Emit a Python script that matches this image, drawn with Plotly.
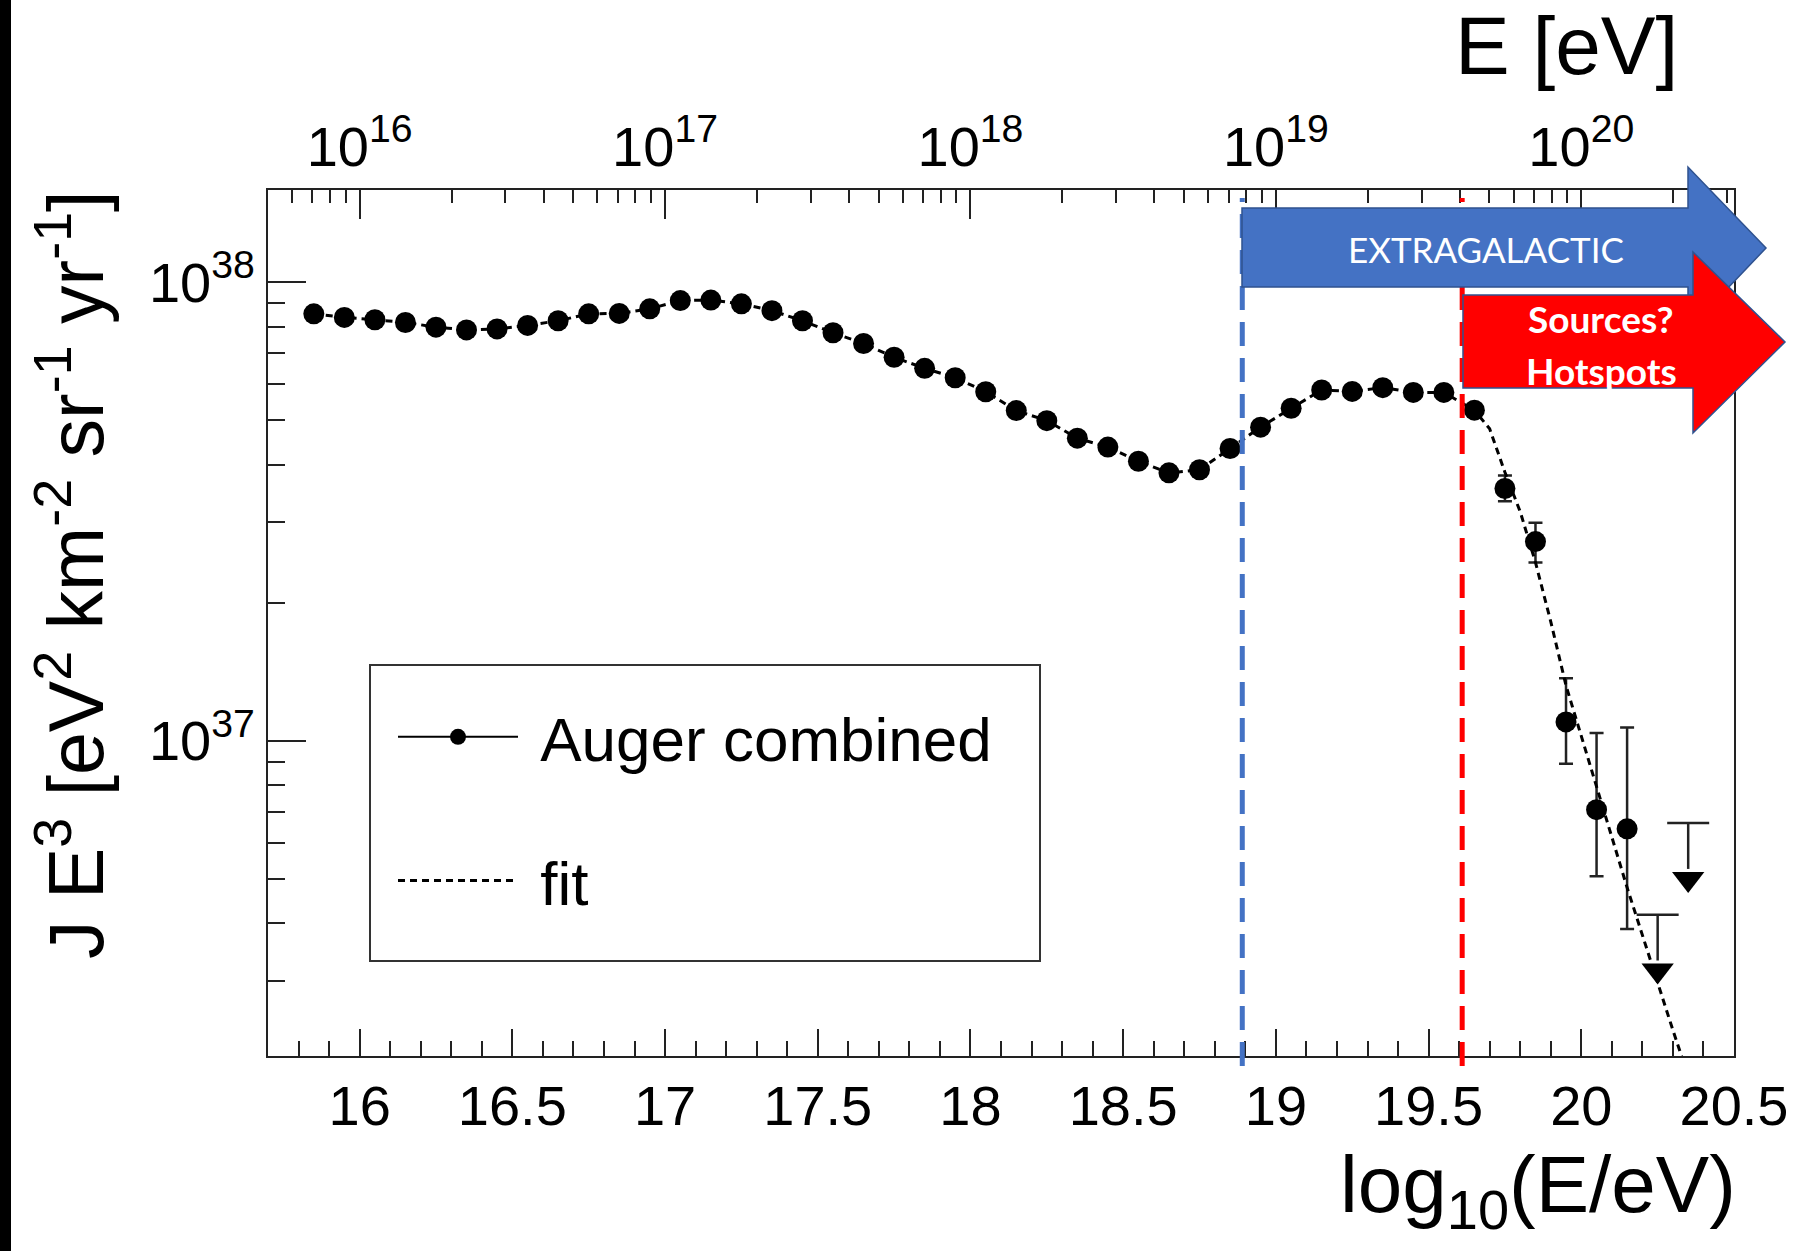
import math
import plotly.graph_objects as go

# ---------------- data ----------------
log_e = [15.85, 15.95, 16.05, 16.15, 16.25, 16.35, 16.45, 16.55, 16.65, 16.75,
         16.85, 16.95, 17.05, 17.15, 17.25, 17.35, 17.45, 17.55, 17.65, 17.75,
         17.85, 17.95, 18.05, 18.15, 18.25, 18.35, 18.45, 18.55, 18.65, 18.75,
         18.85, 18.95, 19.05, 19.15, 19.25, 19.35, 19.45, 19.55, 19.65, 19.75,
         19.85, 19.95, 20.05, 20.15]
# J E^3 in units of 1e37 eV^2 km^-2 sr^-1 yr^-1
flux_e37 = [8.53, 8.38, 8.28, 8.17, 7.98, 7.87, 7.91, 8.05, 8.24, 8.53,
            8.55, 8.75, 9.12, 9.14, 8.97, 8.67, 8.24, 7.76, 7.35, 6.86,
            6.49, 6.19, 5.77, 5.25, 4.99, 4.57, 4.37, 4.07, 3.84, 3.90,
            4.34, 4.83, 5.31, 5.82, 5.78, 5.89, 5.75, 5.75, 5.26, 3.55,
            2.72, 1.10, 0.708, 0.643]
err_up_e37 = [0, 0, 0, 0, 0, 0, 0, 0, 0, 0,
              0, 0, 0, 0, 0, 0, 0, 0, 0, 0,
              0, 0, 0, 0, 0, 0, 0, 0, 0, 0,
              0, 0, 0, 0, 0, 0, 0, 0, 0.10, 0.24,
              0.27, 0.27, 0.332, 0.427]
err_dn_e37 = [0, 0, 0, 0, 0, 0, 0, 0, 0, 0,
              0, 0, 0, 0, 0, 0, 0, 0, 0, 0,
              0, 0, 0, 0, 0, 0, 0, 0, 0, 0,
              0, 0, 0, 0, 0, 0, 0, 0, 0.10, 0.22,
              0.27, 0.209, 0.201, 0.254]

ul_log_e = [20.25, 20.35]
ul_e37 = [0.418, 0.662]

fit_log_e = [15.85, 15.95, 16.05, 16.15, 16.25, 16.35, 16.45, 16.55, 16.65, 16.75,
             16.85, 16.95, 17.05, 17.15, 17.25, 17.35, 17.45, 17.55, 17.65, 17.75,
             17.85, 17.95, 18.05, 18.15, 18.25, 18.35, 18.45, 18.55, 18.65, 18.75,
             18.85, 18.95, 19.05, 19.15, 19.25, 19.35, 19.45, 19.55, 19.65,
             19.70, 19.75, 19.80, 19.85, 19.90, 19.95, 20.00, 20.05, 20.10, 20.15,
             20.20, 20.25, 20.30, 20.35]
fit_e37 = [8.53, 8.38, 8.28, 8.17, 7.98, 7.87, 7.91, 8.05, 8.24, 8.53,
           8.55, 8.75, 9.12, 9.14, 8.97, 8.67, 8.24, 7.76, 7.35, 6.86,
           6.49, 6.19, 5.77, 5.25, 4.99, 4.57, 4.37, 4.07, 3.84, 3.90,
           4.34, 4.83, 5.31, 5.82, 5.78, 5.89, 5.75, 5.75, 5.26,
           4.79, 3.85, 3.16, 2.45, 1.82, 1.32, 1.02, 0.794, 0.617, 0.479,
           0.376, 0.295, 0.234, 0.186]

x_major = [16, 16.5, 17, 17.5, 18, 18.5, 19, 19.5, 20, 20.5]
x_major_text = ["16", "16.5", "17", "17.5", "18", "18.5", "19", "19.5", "20", "20.5"]
top_decades = [16, 17, 18, 19, 20]
top_text = ["10<sup>16</sup>", "10<sup>17</sup>", "10<sup>18</sup>", "10<sup>19</sup>", "10<sup>20</sup>"]
y_major = [1e37, 1e38]
y_major_text = ["10<sup>37</sup>", "10<sup>38</sup>"]

galactic_edge = 18.89   # blue dashed line (log10 E)
source_edge = 19.61     # red dashed line (log10 E)

UNIT = 1e37
flux = [v * UNIT for v in flux_e37]
eu = [v * UNIT for v in err_up_e37]
ed = [v * UNIT for v in err_dn_e37]
ul = [v * UNIT for v in ul_e37]
fit = [v * UNIT for v in fit_e37]

# ---------------- geometry helpers ----------------
W, H = 1803, 1251
L, R, T, B = 268, 69, 190, 195
PW, PH = W - L - R, H - T - B


def px(X):
    return (X - L) / PW


def py(Y):
    return (H - B - Y) / PH


def path(points):
    return "M " + " L ".join(f"{px(a):.5f},{py(b):.5f}" for a, b in points) + " Z"


minor_x = [round(15.8 + 0.1 * i, 2) for i in range(47)]
minor_top = [n + math.log10(k) for n in range(15, 21) for k in range(2, 10)]
minor_top = [v for v in minor_top if 15.7 < v < 20.5]
minor_y = [k * 1e36 for k in range(2, 10)] + [k * 1e37 for k in range(2, 10)]

AXC = "#222222"
FONT = "Liberation Sans, Arial, Helvetica, sans-serif"
OFONT = "Lato, Open Sans, sans-serif"

fig = go.Figure()

# fit (attached to top axis so that axis exists; same range as bottom)
fig.add_trace(go.Scatter(
    x=fit_log_e, y=fit, mode="lines", name="\u00a0fit", xaxis="x2", yaxis="y",
    line=dict(color="black", width=3, dash="7px,5px"),
    legendgroup="b", showlegend=True, legendrank=2,
))

# data
fig.add_trace(go.Scatter(
    x=log_e, y=flux, mode="markers", showlegend=False,
    marker=dict(color="black", size=21),
    error_y=dict(type="data", symmetric=False, array=eu, arrayminus=ed,
                 color=AXC, thickness=2.5, width=7),
))
# legend entry for data
fig.add_trace(go.Scatter(
    x=[None], y=[None], mode="lines+markers", name="\u00a0Auger combined",
    line=dict(color="black", width=2), marker=dict(color="black", size=16),
    legendgroup="a", legendrank=1,
))

# upper limits: cap + bar + arrow head
fig.add_trace(go.Scatter(
    x=ul_log_e, y=ul, mode="markers", showlegend=False,
    marker=dict(symbol="line-ew", size=30, line=dict(color=AXC, width=2.5)),
    error_y=dict(type="data", symmetric=False, array=[0, 0],
                 arrayminus=[v * (1 - 10 ** -0.10) for v in ul],
                 color=AXC, thickness=2.5, width=0),
))
fig.add_trace(go.Scatter(
    x=ul_log_e, y=[v * 10 ** -0.122 for v in ul], mode="markers", showlegend=False,
    marker=dict(symbol="triangle-down", size=28, color="black"),
))

shapes = []
# black strip at left edge
shapes.append(dict(type="rect", xref="paper", yref="paper",
                   x0=px(-2), x1=px(11), y0=py(H + 2), y1=py(-2),
                   fillcolor="black", line=dict(width=0), layer="above"))
# legend box
shapes.append(dict(type="rect", xref="paper", yref="paper",
                   x0=px(370), x1=px(1040), y0=py(961), y1=py(665),
                   fillcolor="white", line=dict(color="#333333", width=2), layer="above"))
# vertical dashed lines
for xv, col in [(galactic_edge, "#4472C4"), (source_edge, "#FF0000")]:
    shapes.append(dict(type="line", xref="x", yref="paper",
                       x0=xv, x1=xv, y0=py(1066), y1=py(198),
                       line=dict(color=col, width=5, dash="24px,12px"), layer="above"))
# blue arrow
shapes.append(dict(type="path", xref="paper", yref="paper", layer="above",
                   path=path([(1242, 208), (1688, 208), (1688, 167), (1766, 248),
                              (1688, 330), (1688, 287), (1242, 287)]),
                   fillcolor="#4472C4", line=dict(color="#2F528F", width=1.5)))
# red arrow
shapes.append(dict(type="path", xref="paper", yref="paper", layer="above",
                   path=path([(1463, 295), (1693, 295), (1693, 252), (1785, 342),
                              (1693, 433), (1693, 388), (1463, 388)]),
                   fillcolor="#FF0000", line=dict(color="#2F528F", width=1.5)))


def ann(text, X, Y, size, family=FONT, color="black", xa="center", ya="middle", angle=0):
    return dict(text=text, x=px(X), y=py(Y), xref="paper", yref="paper",
                xanchor=xa, yanchor=ya, textangle=angle, showarrow=False,
                font=dict(family=family, size=size, color=color))


annotations = [
    ann("EXTRAGALACTIC", 1486, 249, 35, OFONT, "white"),
    ann("<b>Sources?</b>", 1601, 318, 37, OFONT, "white"),
    ann("<b>Hotspots</b>", 1601, 370, 37, OFONT, "white"),
    ann("E [eV]", 1566, 46, 82),
    ann("log<sub>10</sub>(E/eV)", 1738, 1190, 80, xa="right"),
    ann("J E<sup>3</sup> [eV<sup>2</sup> km<sup>-2</sup> sr<sup>-1</sup> yr<sup>-1</sup>]",
        70, 575, 77, angle=-90),
]

fig.update_layout(
    width=W, height=H,
    margin=dict(l=L, r=R, t=T, b=B, pad=0),
    paper_bgcolor="white", plot_bgcolor="white",
    font=dict(family=FONT, color="black"),
    shapes=shapes, annotations=annotations,
    legend=dict(x=px(393), y=py(690), xanchor="left", yanchor="top",
                bgcolor="rgba(0,0,0,0)", borderwidth=0,
                font=dict(family=FONT, size=62, color="black"),
                itemwidth=120, tracegroupgap=60, traceorder="grouped"),
    xaxis=dict(range=[15.7, 20.5], showgrid=False, zeroline=False,
               showline=True, linecolor=AXC, linewidth=2, mirror=False,
               tickmode="array", tickvals=x_major, ticktext=x_major_text,
               ticks="inside", ticklen=27, tickwidth=2, tickcolor=AXC,
               tickfont=dict(size=56, color="black"),
               minor=dict(tickmode="array", tickvals=minor_x, ticks="inside",
                          ticklen=15, tickwidth=2, tickcolor=AXC, showgrid=False)),
    xaxis2=dict(range=[15.7, 20.5], overlaying="x", side="top", showgrid=False,
                zeroline=False, showline=True, linecolor=AXC, linewidth=2,
                tickmode="array", tickvals=top_decades, ticktext=top_text,
                ticks="inside", ticklen=29, tickwidth=2, tickcolor=AXC,
                tickfont=dict(size=56, color="black"),
                minor=dict(tickmode="array", tickvals=minor_top, ticks="inside",
                           ticklen=13, tickwidth=2, tickcolor=AXC, showgrid=False)),
    yaxis=dict(type="log", range=[36.313, 38.201], showgrid=False, zeroline=False,
               showline=True, linecolor=AXC, linewidth=2, mirror=True,
               tickmode="array", tickvals=y_major, ticktext=y_major_text,
               ticks="inside", ticklen=38, tickwidth=2, tickcolor=AXC,
               tickfont=dict(size=56, color="black"),
               minor=dict(tickmode="array", tickvals=minor_y, ticks="inside",
                          ticklen=17, tickwidth=2, tickcolor=AXC, showgrid=False)),
)

fig.write_html("out.html", config={"displayModeBar": False},
               post_script="document.body.style.margin='0px';")
